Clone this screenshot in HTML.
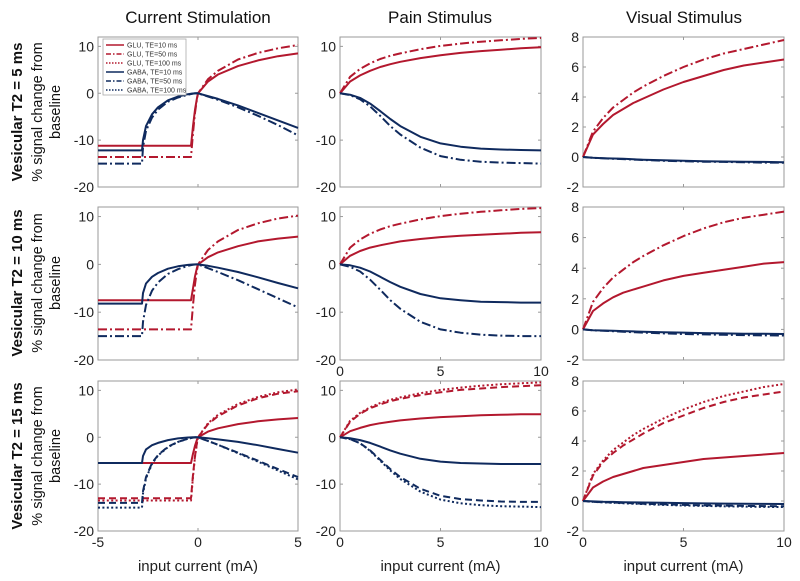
<!DOCTYPE html>
<html><head><meta charset="utf-8">
<style>
html,body{margin:0;padding:0;background:#fff;}
svg{display:block;font-family:"Liberation Sans",sans-serif;}
</style></head>
<body>
<svg id="fig" width="800" height="581" viewBox="0 0 800 581" xmlns="http://www.w3.org/2000/svg">
  <text x="198" y="23" font-size="17" text-anchor="middle" fill="#111">Current Stimulation</text>
  <text x="440" y="23" font-size="17" text-anchor="middle" fill="#111">Pain Stimulus</text>
  <text x="684" y="23" font-size="17" text-anchor="middle" fill="#111">Visual Stimulus</text>
</svg>
<script>
// ---------- data ----------
const xCurrent = [-5,-2.8,-2.75,-2.6,-2.3,-2,-1.5,-1,-0.5,-0.35,-0.25,-0.15,-0.05,0,0.5,1,2,3,4,5];
const xPain = [0,0.5,1,1.5,2,2.5,3,4,5,6,7,8,9,10];
const xVisual = [0,0.5,1,1.5,2,2.5,3,4,5,6,7,8,9,10];
const rowLabels = ["Vesicular T2 = 5 ms","Vesicular T2 = 10 ms","Vesicular T2 = 15 ms"];
const legendLabels = ["GLU, TE=10 ms","GLU, TE=50 ms","GLU, TE=100 ms","GABA, TE=10 ms","GABA, TE=50 ms","GABA, TE=100 ms"];
const ticksCurrentY = [10,0,-10,-20];
const ticksPainY = [10,0,-10,-20];
const ticksVisualY = [8,6,4,2,0,-2];
const ticksCurrentX = [-5,0,5];
const ticksPainX = [0,5,10];

// Current stimulation
const cur_r1_glu10 = [-11.2,-11.2,-11.2,-11.2,-11.2,-11.2,-11.2,-11.2,-11.2,-11.2,-7,-3.5,-1,0,2.5,4,5.8,7,7.9,8.5];
const cur_r1_glu50 = [-13.6,-13.6,-13.6,-13.6,-13.6,-13.6,-13.6,-13.6,-13.6,-13.6,-8.5,-4.2,-1.2,0,3,4.8,7.2,8.6,9.6,10.3];
const cur_r1_gaba10 = [-12.2,-12.2,-10,-7,-4.5,-3,-1.5,-0.7,-0.2,-0.1,-0.05,-0.02,0,0,-0.6,-1.2,-2.6,-4.2,-5.8,-7.4];
const cur_r1_gaba50 = [-15,-15,-11.5,-8,-5.2,-3.5,-1.8,-0.9,-0.3,-0.15,-0.08,-0.03,0,0,-0.7,-1.4,-3,-4.8,-6.8,-9];
const cur_r2_glu10 = [-7.5,-7.5,-7.5,-7.5,-7.5,-7.5,-7.5,-7.5,-7.5,-7.5,-5,-2.5,-0.7,0,1.5,2.5,3.8,4.8,5.4,5.8];
const cur_r2_glu50 = [-13.6,-13.6,-13.6,-13.6,-13.6,-13.6,-13.6,-13.6,-13.6,-13.6,-8.5,-4.2,-1.2,0,3,4.8,7.2,8.6,9.6,10.2];
const cur_r2_gaba10 = [-8.2,-8.2,-6,-4,-2.6,-1.8,-0.9,-0.4,-0.1,-0.05,-0.03,-0.01,0,0,-0.3,-0.7,-1.6,-2.7,-3.9,-5];
const cur_r2_gaba50 = [-15,-15,-12,-8.5,-5.5,-3.8,-2,-1,-0.3,-0.15,-0.08,-0.03,0,0,-0.8,-1.6,-3.3,-5.2,-7.1,-9];
const cur_r3_glu10 = [-5.5,-5.5,-5.5,-5.5,-5.5,-5.5,-5.5,-5.5,-5.5,-5.5,-3.5,-1.8,-0.5,0,1.2,1.9,2.8,3.4,3.8,4.1];
const cur_r3_glu50 = [-13,-13,-13,-13,-13,-13,-13,-13,-13,-13,-8,-4,-1.1,0,2.8,4.5,6.8,8.3,9.3,9.8];
const cur_r3_glu100 = [-13.5,-13.5,-13.5,-13.5,-13.5,-13.5,-13.5,-13.5,-13.5,-13.5,-8.4,-4.2,-1.2,0,3,4.8,7.1,8.6,9.6,10.2];
const cur_r3_gaba10 = [-5.5,-5.5,-4,-2.6,-1.7,-1.2,-0.6,-0.25,-0.05,-0.03,-0.02,-0.01,0,0,-0.2,-0.45,-1,-1.7,-2.5,-3.3];
const cur_r3_gaba50 = [-14,-14,-11.5,-8.5,-5.5,-3.8,-2,-1,-0.3,-0.15,-0.08,-0.03,0,0,-0.8,-1.6,-3.3,-5,-6.8,-8.5];
const cur_r3_gaba100 = [-15,-15,-12,-8.8,-5.7,-3.9,-2.1,-1,-0.3,-0.15,-0.08,-0.03,0,0,-0.8,-1.6,-3.4,-5.2,-7.1,-9];

// Pain stimulus
const pain_r1_glu10 = [0,2.5,3.8,4.8,5.6,6.2,6.7,7.5,8.1,8.6,9,9.3,9.6,9.8];
const pain_r1_glu50 = [0,3.5,5.2,6.4,7.3,8,8.5,9.4,10.1,10.6,11,11.3,11.6,11.8];
const pain_r1_gaba10 = [0,-0.3,-1,-2.2,-3.8,-5.5,-7,-9.3,-10.7,-11.4,-11.8,-12,-12.1,-12.2];
const pain_r1_gaba50 = [0,-0.4,-1.3,-2.8,-4.8,-7,-8.8,-11.6,-13.4,-14.2,-14.6,-14.8,-14.9,-15];
const pain_r2_glu10 = [0,1.8,2.8,3.5,4,4.4,4.8,5.3,5.7,6,6.2,6.4,6.6,6.7];
const pain_r2_glu50 = [0,3.5,5.2,6.4,7.3,8,8.5,9.4,10.1,10.6,11,11.3,11.6,11.8];
const pain_r2_gaba10 = [0,-0.2,-0.7,-1.5,-2.6,-3.7,-4.7,-6.2,-7.1,-7.5,-7.8,-7.9,-8,-8];
const pain_r2_gaba50 = [0,-0.5,-1.5,-3.2,-5.3,-7.5,-9.3,-12,-13.6,-14.3,-14.7,-14.9,-15,-15];
const pain_r3_glu10 = [0,1.3,2,2.6,3,3.3,3.6,4,4.3,4.5,4.7,4.8,4.9,4.9];
const pain_r3_glu50 = [0,3.3,5,6.2,7,7.7,8.2,9,9.6,10.1,10.4,10.7,10.9,11.1];
const pain_r3_glu100 = [0,3.5,5.2,6.4,7.3,8,8.5,9.4,10.1,10.6,11,11.3,11.5,11.7];
const pain_r3_gaba10 = [0,-0.2,-0.6,-1.2,-2,-2.8,-3.5,-4.6,-5.2,-5.5,-5.6,-5.7,-5.7,-5.7];
const pain_r3_gaba50 = [0,-0.4,-1.3,-2.8,-4.8,-6.8,-8.5,-11,-12.5,-13.2,-13.5,-13.7,-13.8,-13.8];
const pain_r3_gaba100 = [0,-0.4,-1.3,-2.9,-5,-7.1,-8.9,-11.6,-13.3,-14.1,-14.5,-14.7,-14.8,-14.9];

// Visual stimulus
const vis_r1_glu10 = [0,1.5,2.2,2.8,3.2,3.6,3.9,4.5,5.0,5.4,5.8,6.1,6.3,6.5];
const vis_r1_glu50 = [0,1.7,2.6,3.3,3.8,4.3,4.7,5.4,6,6.5,6.9,7.2,7.5,7.8];
const vis_r1_gaba10 = [0,-0.05,-0.08,-0.1,-0.12,-0.15,-0.18,-0.22,-0.25,-0.28,-0.3,-0.32,-0.33,-0.35];
const vis_r1_gaba50 = [0,-0.06,-0.09,-0.12,-0.14,-0.17,-0.2,-0.25,-0.28,-0.31,-0.33,-0.35,-0.37,-0.38];
const vis_r2_glu10 = [0,1.2,1.7,2.1,2.4,2.6,2.8,3.2,3.5,3.7,3.9,4.1,4.3,4.4];
const vis_r2_glu50 = [0,1.8,2.7,3.4,3.9,4.4,4.8,5.5,6.1,6.6,7,7.3,7.5,7.7];
const vis_r2_gaba10 = [0,-0.05,-0.07,-0.09,-0.11,-0.13,-0.15,-0.18,-0.21,-0.24,-0.26,-0.28,-0.29,-0.3];
const vis_r2_gaba50 = [0,-0.06,-0.09,-0.12,-0.15,-0.18,-0.21,-0.26,-0.3,-0.33,-0.35,-0.37,-0.39,-0.4];
const vis_r3_glu10 = [0,0.9,1.3,1.6,1.8,2,2.2,2.4,2.6,2.8,2.9,3,3.1,3.2];
const vis_r3_glu50 = [0,1.7,2.6,3.2,3.7,4.1,4.5,5.2,5.7,6.2,6.6,6.9,7.1,7.3];
const vis_r3_glu100 = [0,1.8,2.7,3.4,3.9,4.4,4.8,5.5,6.1,6.6,7,7.3,7.6,7.8];
const vis_r3_gaba10 = [0,-0.03,-0.05,-0.06,-0.08,-0.09,-0.1,-0.12,-0.14,-0.16,-0.17,-0.18,-0.19,-0.2];
const vis_r3_gaba50 = [0,-0.05,-0.08,-0.1,-0.13,-0.15,-0.18,-0.22,-0.26,-0.29,-0.31,-0.33,-0.34,-0.35];
const vis_r3_gaba100 = [0,-0.06,-0.09,-0.12,-0.15,-0.18,-0.21,-0.26,-0.3,-0.33,-0.35,-0.37,-0.39,-0.4];

// ---------- drawing ----------
const NS = "http://www.w3.org/2000/svg";
const svg = document.getElementById("fig");
const RED = "#b3182e", NAVY = "#0f2a5e";
const DASH = {solid:null, dashdot:"9,3,2,3", dashed:"7,4", dotted:"2,2.4"};
function mk(tag, attrs, parent){
  const e = document.createElementNS(NS, tag);
  for (const k in attrs) e.setAttribute(k, attrs[k]);
  (parent||svg).appendChild(e);
  return e;
}
const colBox = [[98,298],[340,541],[583,784]];
const rowBox = [[37,187],[207,360],[381,531]];
const colXs = [xCurrent, xPain, xVisual];
const colXDom = [[-5,5],[0,10],[0,10]];
const colYDom = [[-20,12],[-20,12],[-2,8]];
const colYTicks = [ticksCurrentY, ticksPainY, ticksVisualY];
const colXTicks = [ticksCurrentX, ticksPainX, ticksPainX];
const colNames = ["current","pain","visual"];

const series = [
 [ [[cur_r1_glu10,RED,"solid"],[cur_r1_glu50,RED,"dashdot"],[cur_r1_gaba10,NAVY,"solid"],[cur_r1_gaba50,NAVY,"dashdot"]],
   [[cur_r2_glu10,RED,"solid"],[cur_r2_glu50,RED,"dashdot"],[cur_r2_gaba10,NAVY,"solid"],[cur_r2_gaba50,NAVY,"dashdot"]],
   [[cur_r3_glu10,RED,"solid"],[cur_r3_glu50,RED,"dashed"],[cur_r3_glu100,RED,"dotted"],[cur_r3_gaba10,NAVY,"solid"],[cur_r3_gaba50,NAVY,"dashed"],[cur_r3_gaba100,NAVY,"dotted"]] ],
 [ [[pain_r1_glu10,RED,"solid"],[pain_r1_glu50,RED,"dashdot"],[pain_r1_gaba10,NAVY,"solid"],[pain_r1_gaba50,NAVY,"dashdot"]],
   [[pain_r2_glu10,RED,"solid"],[pain_r2_glu50,RED,"dashdot"],[pain_r2_gaba10,NAVY,"solid"],[pain_r2_gaba50,NAVY,"dashdot"]],
   [[pain_r3_glu10,RED,"solid"],[pain_r3_glu50,RED,"dashed"],[pain_r3_glu100,RED,"dotted"],[pain_r3_gaba10,NAVY,"solid"],[pain_r3_gaba50,NAVY,"dashed"],[pain_r3_gaba100,NAVY,"dotted"]] ],
 [ [[vis_r1_glu10,RED,"solid"],[vis_r1_glu50,RED,"dashdot"],[vis_r1_gaba10,NAVY,"solid"],[vis_r1_gaba50,NAVY,"dashdot"]],
   [[vis_r2_glu10,RED,"solid"],[vis_r2_glu50,RED,"dashdot"],[vis_r2_gaba10,NAVY,"solid"],[vis_r2_gaba50,NAVY,"dashdot"]],
   [[vis_r3_glu10,RED,"solid"],[vis_r3_glu50,RED,"dashed"],[vis_r3_glu100,RED,"dotted"],[vis_r3_gaba10,NAVY,"solid"],[vis_r3_gaba50,NAVY,"dashed"],[vis_r3_gaba100,NAVY,"dotted"]] ]
];

for (let c=0;c<3;c++){
  for (let r=0;r<3;r++){
    const [x0,x1]=colBox[c], [y0,y1]=rowBox[r];
    const [dx0,dx1]=colXDom[c], [dy0,dy1]=colYDom[c];
    const sx = v => x0 + (v-dx0)/(dx1-dx0)*(x1-x0);
    const sy = v => y1 - (v-dy0)/(dy1-dy0)*(y1-y0);
    const g = mk("g",{});
    
    
    const box = mk("rect",{x:x0,y:y0,width:x1-x0,height:y1-y0,fill:"#fff",stroke:"#9a9a9a","stroke-width":1},g);
    
    
    colYTicks[c].forEach(t=>{
      const y=sy(t);
      mk("line",{x1:x0,x2:x0+3,y1:y,y2:y,stroke:"#9a9a9a"},g);
      mk("line",{x1:x1,x2:x1-3,y1:y,y2:y,stroke:"#9a9a9a"},g);
      const tl = mk("text",{x:x0-4,y:y+5,"font-size":14,"text-anchor":"end",fill:"#222"},g);
      tl.textContent=String(t);
      
      
    });
    colXTicks[c].forEach(t=>{
      const x=sx(t);
      mk("line",{x1:x,x2:x,y1:y1,y2:y1-3,stroke:"#9a9a9a"},g);
      mk("line",{x1:x,x2:x,y1:y0,y2:y0+3,stroke:"#9a9a9a"},g);
      const showLbl = (r===2) || (c===1 && r===1);
      if (showLbl){
        const xl = mk("text",{x:x,y:y1+16,"font-size":14,"text-anchor":"middle",fill:"#222"},g);
        xl.textContent=String(t);
        
        
      }
    });
    const xs = colXs[c];
    series[c][r].forEach((s,i)=>{
      const [ys,col,style]=s;
      const pts = ys.map((v,k)=>sx(xs[k]).toFixed(1)+","+sy(v).toFixed(1)).join(" ");
      const a={points:pts,fill:"none",stroke:col,"stroke-width":2,"stroke-linejoin":"round"};
      if (DASH[style]) a["stroke-dasharray"]=DASH[style];
      const pl = mk("polyline",a,g);
      
      
    });
    if (r===2){
      const xt = mk("text",{x:(x0+x1)/2,y:571,"font-size":15,"text-anchor":"middle",fill:"#222"},g);
      xt.textContent="input current (mA)";
      
      
    }
  }
}

const rowCenters=[112,283,456];
rowCenters.forEach((cy,r)=>{
  const g = mk("g",{transform:"translate(0,"+cy+") rotate(-90)"});
  
  
  const t1 = mk("text",{x:0,y:22,"font-size":15,"font-weight":"bold","text-anchor":"middle",fill:"#111"},g);
  t1.textContent=rowLabels[r];
  const t2 = mk("text",{x:0,y:42,"font-size":14.5,"text-anchor":"middle",fill:"#111"},g);
  t2.textContent="% signal change from";
  const t3 = mk("text",{x:0,y:60,"font-size":14.5,"text-anchor":"middle",fill:"#111"},g);
  t3.textContent="baseline";
});

const lg = mk("g",{});


mk("rect",{x:103,y:39,width:83,height:56,fill:"#fff",stroke:"#aaa","stroke-width":0.8},lg);
const legStyles=[[RED,"solid"],[RED,"dashdot"],[RED,"dotted"],[NAVY,"solid"],[NAVY,"dashdot"],[NAVY,"dotted"]];
legendLabels.forEach((lab,i)=>{
  const y=45+i*9;
  const a={x1:106,x2:124,y1:y,y2:y,stroke:legStyles[i][0],"stroke-width":1.6};
  if (DASH[legStyles[i][1]]) a["stroke-dasharray"]=legStyles[i][1]==="dashdot"?"5,2,1.5,2":"1.5,1.5";
  mk("line",a,lg);
  const t = mk("text",{x:127,y:y+2.5,"font-size":7,fill:"#333"},lg);
  t.textContent=lab;
  
  
});
</script>
</body></html>
